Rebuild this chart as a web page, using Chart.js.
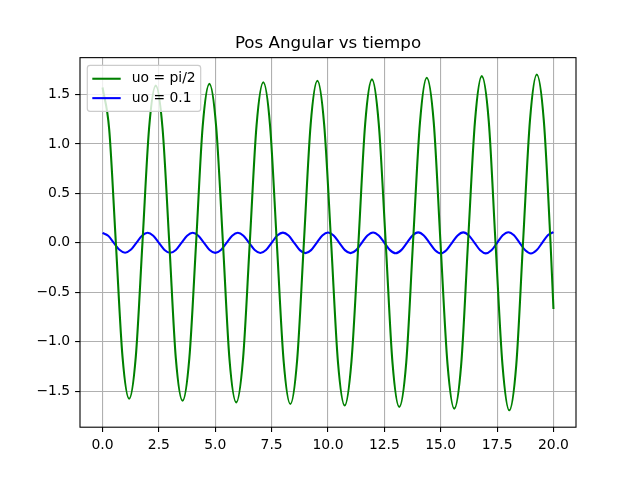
<!DOCTYPE html>
<html>
<head>
<meta charset="utf-8">
<script src="https://cdn.jsdelivr.net/npm/chart.js@4.4.1/dist/chart.umd.min.js"></script>
<style>
  html, body { margin: 0; padding: 0; background: #fff; }
  canvas { display: block; }
</style>
</head>
<body>
<canvas id="grafico" width="640" height="480"></canvas>
<script>
// uo = pi/2 (verde)
const tiempoA = [0, 0.295, 0.59, 0.885, 1.18, 1.475, 1.77, 2.065, 2.36, 2.66, 2.96, 3.25, 3.55,
  3.85, 4.15, 4.44, 4.74, 5.04, 5.34, 5.63, 5.93, 6.23, 6.53, 6.83, 7.13, 7.43, 7.73, 8.03, 8.33,
  8.63, 8.93, 9.23, 9.53, 9.83, 10.14, 10.44, 10.74, 11.04, 11.35, 11.65, 11.95, 12.25, 12.56,
  12.86, 13.16, 13.47, 13.77, 14.08, 14.38, 14.69, 14.99, 15.30, 15.60, 15.91, 16.21, 16.52,
  16.82, 17.13, 17.43, 17.74, 18.04, 18.35, 18.65, 18.96, 19.26, 19.57, 19.87, 20.0];
const posA = [1.571, 1.147, 0, -1.151, -1.577, -1.151, 0, 1.161, 1.590, 1.161, 0, -1.167, -1.598,
  -1.167, 0, 1.174, 1.608, 1.174, 0, -1.178, -1.614, -1.178, 0, 1.186, 1.624, 1.186, 0, -1.190,
  -1.630, -1.190, 0, 1.196, 1.639, 1.196, 0, -1.201, -1.645, -1.201, 0, 1.207, 1.653, 1.207, 0,
  -1.212, -1.660, -1.212, 0, 1.218, 1.669, 1.218, 0, -1.224, -1.677, -1.224, 0, 1.231, 1.686,
  1.231, 0, -1.237, -1.694, -1.237, 0, 1.243, 1.703, 1.243, 0, -0.669];

// uo = 0.1 (azul)
const tiempoB = [0, 0.25, 0.5, 0.75, 1, 1.25, 1.5, 1.75, 2, 2.25, 2.5, 2.75, 3, 3.25, 3.5, 3.75,
  4, 4.25, 4.5, 4.75, 5, 5.25, 5.5, 5.75, 6, 6.25, 6.5, 6.75, 7, 7.25, 7.5, 7.75, 8, 8.25, 8.5,
  8.75, 9, 9.25, 9.5, 9.75, 10, 10.25, 10.5, 10.75, 11, 11.25, 11.5, 11.75, 12, 12.25, 12.5,
  12.75, 13, 13.25, 13.5, 13.75, 14, 14.25, 14.5, 14.75, 15, 15.25, 15.5, 15.75, 16, 16.25,
  16.5, 16.75, 17, 17.25, 17.5, 17.75, 18, 18.25, 18.5, 18.75, 19, 19.25, 19.5, 19.75, 20];
const posB = [0.100, 0.071, 0, -0.071, -0.100, -0.071, 0, 0.071, 0.101, 0.071, 0, -0.072, -0.101,
  -0.072, 0, 0.072, 0.102, 0.072, 0, -0.072, -0.102, -0.072, 0, 0.072, 0.102, 0.072, 0, -0.073,
  -0.103, -0.073, 0, 0.073, 0.103, 0.073, 0, -0.074, -0.104, -0.074, 0, 0.074, 0.104, 0.074, 0,
  -0.074, -0.104, -0.074, 0, 0.074, 0.105, 0.074, 0, -0.074, -0.105, -0.074, 0, 0.075, 0.106,
  0.075, 0, -0.075, -0.106, -0.075, 0, 0.075, 0.106, 0.075, 0, -0.076, -0.107, -0.076, 0, 0.076,
  0.107, 0.076, 0, -0.076, -0.108, -0.076, 0, 0.076, 0.108];

const etiquetas = ["uo = pi/2", "uo = 0.1"];
const xTicks = [0, 2.5, 5, 7.5, 10, 12.5, 15, 17.5, 20];
const yTicks = [-1.5, -1.0, -0.5, 0.0, 0.5, 1.0, 1.5];

function puntos(ts, vs) {
  const out = [];
  for (let i = 0; i < ts.length; i++) {
    out.push({ x: ts[i], y: vs[i] });
  }
  return out;
}

const fuente = "'DejaVu Sans', sans-serif";
Chart.defaults.color = "#000";
Chart.defaults.font.family = fuente;
Chart.defaults.font.size = 13.9;

// marco negro del area de ejes
const marco = {
  id: 'marco',
  afterDatasetsDraw(chart) {
    const a = chart.chartArea;
    const ctx = chart.ctx;
    ctx.save();
    ctx.strokeStyle = "#000";
    ctx.lineWidth = 1.1;
    ctx.strokeRect(a.left, a.top, a.right - a.left, a.bottom - a.top);
    ctx.restore();
  }
};

// leyenda dentro del area, arriba a la izquierda
const leyenda = {
  id: 'leyenda',
  afterDraw(chart) {
    const a = chart.chartArea;
    const ctx = chart.ctx;
    const x = a.left + 7.3, y = a.top + 7.7, w = 113.4, h = 46, r = 2.8;
    ctx.save();
    ctx.beginPath();
    ctx.moveTo(x + r, y);
    ctx.lineTo(x + w - r, y);
    ctx.arcTo(x + w, y, x + w, y + r, r);
    ctx.lineTo(x + w, y + h - r);
    ctx.arcTo(x + w, y + h, x + w - r, y + h, r);
    ctx.lineTo(x + r, y + h);
    ctx.arcTo(x, y + h, x, y + h - r, r);
    ctx.lineTo(x, y + r);
    ctx.arcTo(x, y, x + r, y, r);
    ctx.closePath();
    ctx.fillStyle = "rgba(255,255,255,0.8)";
    ctx.fill();
    ctx.strokeStyle = "#cccccc";
    ctx.lineWidth = 1.2;
    ctx.stroke();

    ctx.font = "13.9px " + fuente;
    ctx.textBaseline = "middle";
    ctx.textAlign = "left";
    chart.data.datasets.forEach((ds, i) => {
      const ly = y + 13.4 + i * 19.4;
      ctx.beginPath();
      ctx.moveTo(x + 5, ly);
      ctx.lineTo(x + 33.4, ly);
      ctx.strokeStyle = ds.borderColor;
      ctx.lineWidth = 2.08;
      ctx.stroke();
      ctx.fillStyle = "#000";
      ctx.fillText(ds.label, x + 44.4, ly);
    });
    ctx.restore();
  }
};

new Chart(document.getElementById("grafico"), {
  type: 'line',
  data: {
    datasets: [
      {
        label: etiquetas[0],
        data: puntos(tiempoA, posA),
        borderColor: "#008000",
        borderWidth: 2.08,
        pointRadius: 0,
        fill: false,
        cubicInterpolationMode: 'monotone'
      },
      {
        label: etiquetas[1],
        data: puntos(tiempoB, posB),
        borderColor: "#0000ff",
        borderWidth: 2.08,
        pointRadius: 0,
        fill: false,
        cubicInterpolationMode: 'monotone'
      }
    ]
  },
  options: {
    responsive: false,
    animation: false,
    devicePixelRatio: 1,
    layout: { padding: { left: 0, right: 64, top: 0, bottom: 0 } },
    plugins: {
      legend: { display: false },
      tooltip: { enabled: false },
      title: {
        display: true,
        fullSize: false,
        text: "Pos Angular vs tiempo",
        color: "#000",
        font: { family: fuente, size: 16.7, weight: 'normal', lineHeight: 1.2 },
        padding: { top: 34, bottom: 3.6 }
      }
    },
    scales: {
      x: {
        type: 'linear',
        min: -1,
        max: 21,
        afterBuildTicks: (s) => { s.ticks = xTicks.map(v => ({ value: v })); },
        afterFit: (s) => { s.height = 52.8; },
        border: { display: false },
        grid: { color: "#b0b0b0", lineWidth: 1.1, drawTicks: true, tickLength: 4.9, tickColor: "#000", tickWidth: 1.1 },
        ticks: { padding: 4.9, maxRotation: 0, autoSkip: false, callback: (v) => Number(v).toFixed(1) }
      },
      y: {
        type: 'linear',
        min: -1.865,
        max: 1.873,
        afterBuildTicks: (s) => { s.ticks = yTicks.map(v => ({ value: v })); },
        afterFit: (s) => { s.width = 80; },
        border: { display: false },
        grid: { color: "#b0b0b0", lineWidth: 1.1, drawTicks: true, tickLength: 4.9, tickColor: "#000", tickWidth: 1.1 },
        ticks: {
          padding: 4.9,
          autoSkip: false,
          callback: (v) => (v < 0 ? "\u2212" : "") + Math.abs(v).toFixed(1)
        }
      }
    }
  },
  plugins: [marco, leyenda]
});
</script>
</body>
</html>
